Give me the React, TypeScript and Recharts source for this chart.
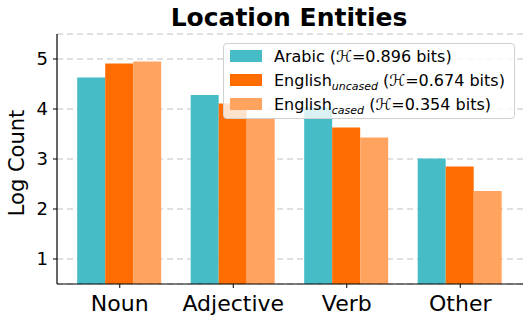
import { BarChart, Bar, XAxis, YAxis, CartesianGrid, Legend } from "recharts";

const FONT = "'DejaVu Sans', sans-serif";

const categories = ["Noun", "Adjective", "Verb", "Other"];
const arabic = [4.63, 4.28, 4.04, 3.01];
const englishUncased = [4.91, 4.11, 3.63, 2.85];
const englishCased = [4.95, 3.8, 3.43, 2.36];
const yTicks = [1, 2, 3, 4, 5];

const seriesKeys = ["arabic", "uncased", "cased"];
const seriesBase = ["Arabic", "English", "English"];
const seriesSub = ["", "uncased", "cased"];
const seriesEntropy = ["0.896", "0.674", "0.354"];
const seriesColors = ["#46BCC7", "#FF6D00", "#FFA35F"];

const data = categories.map((name, i) => ({
  name,
  arabic: arabic[i],
  uncased: englishUncased[i],
  cased: englishCased[i],
}));

function LegendBox() {
  return (
    <div
      style={{
        boxSizing: "border-box",
        width: 292,
        background: "rgba(255,255,255,0.8)",
        border: "1px solid #d0d0d0",
        borderRadius: 4,
        padding: "0 0 2px 6px",
        fontFamily: FONT,
        fontSize: 16,
        color: "#000",
      }}
    >
      {seriesKeys.map((k, i) => (
        <div key={k} style={{ display: "flex", alignItems: "center", height: 24 }}>
          <span style={{ width: 32, height: 12, background: seriesColors[i], marginRight: 12 }} />
          <span style={{ whiteSpace: "nowrap" }}>
            {seriesBase[i]}
            {seriesSub[i] && (
              <span style={{ fontStyle: "italic", fontSize: 11, position: "relative", top: 4 }}>
                {seriesSub[i]}
              </span>
            )}{" "}
            (ℋ={seriesEntropy[i]} bits)
          </span>
        </div>
      ))}
    </div>
  );
}

export default function App() {
  const axisLine = { stroke: "#000", strokeWidth: 1.2 };
  return (
    <div style={{ position: "absolute", left: 0, top: 0, background: "#fff" }}>
      <BarChart
        width={532}
        height={324}
        data={data}
        margin={{ top: 34, right: 9, bottom: 0, left: 0 }}
        barCategoryGap="12.5%"
        barGap={0}
        style={{ fontFamily: FONT }}
      >
        <CartesianGrid vertical={false} stroke="#d6d6d6" strokeDasharray="6 4" strokeWidth={1.3} />
        <XAxis
          dataKey="name"
          height={40}
          padding={{ left: 6, right: 6 }}
          axisLine={axisLine}
          tickLine={{ stroke: "#000" }}
          tickSize={4}
          tickMargin={7}
          tick={{ fontSize: 22, fill: "#000", fontFamily: FONT }}
        />
        <XAxis
          xAxisId="top"
          orientation="top"
          dataKey="name"
          height={0}
          tick={false}
          tickLine={false}
          axisLine={axisLine}
        />
        <YAxis
          width={57}
          domain={[0.5, 5.5]}
          ticks={yTicks}
          axisLine={axisLine}
          tickLine={{ stroke: "#000" }}
          tickSize={4}
          tickMargin={5}
          tick={{ fontSize: 18, fill: "#000", fontFamily: FONT }}
        />
        <YAxis
          yAxisId="right"
          orientation="right"
          width={0}
          domain={[0.5, 5.5]}
          tick={false}
          tickLine={false}
          axisLine={axisLine}
        />
        {seriesKeys.map((k, i) => (
          <Bar
            key={k}
            dataKey={k}
            name={seriesBase[i] + seriesSub[i]}
            fill={seriesColors[i]}
            isAnimationActive={false}
          />
        ))}
        <Legend
          layout="horizontal"
          verticalAlign="middle"
          align="center"
          content={() => <LegendBox />}
          wrapperStyle={{ left: 223, top: 43, width: 292 }}
        />
        <text
          x={289}
          y={26}
          textAnchor="middle"
          fontSize={25}
          fontWeight="bold"
          fontFamily={FONT}
          fill="#000"
        >
          Location Entities
        </text>
        <text
          transform="rotate(-90)"
          x={-163}
          y={24}
          textAnchor="middle"
          fontSize={21}
          fontFamily={FONT}
          fill="#000"
        >
          Log Count
        </text>
      </BarChart>
    </div>
  );
}
